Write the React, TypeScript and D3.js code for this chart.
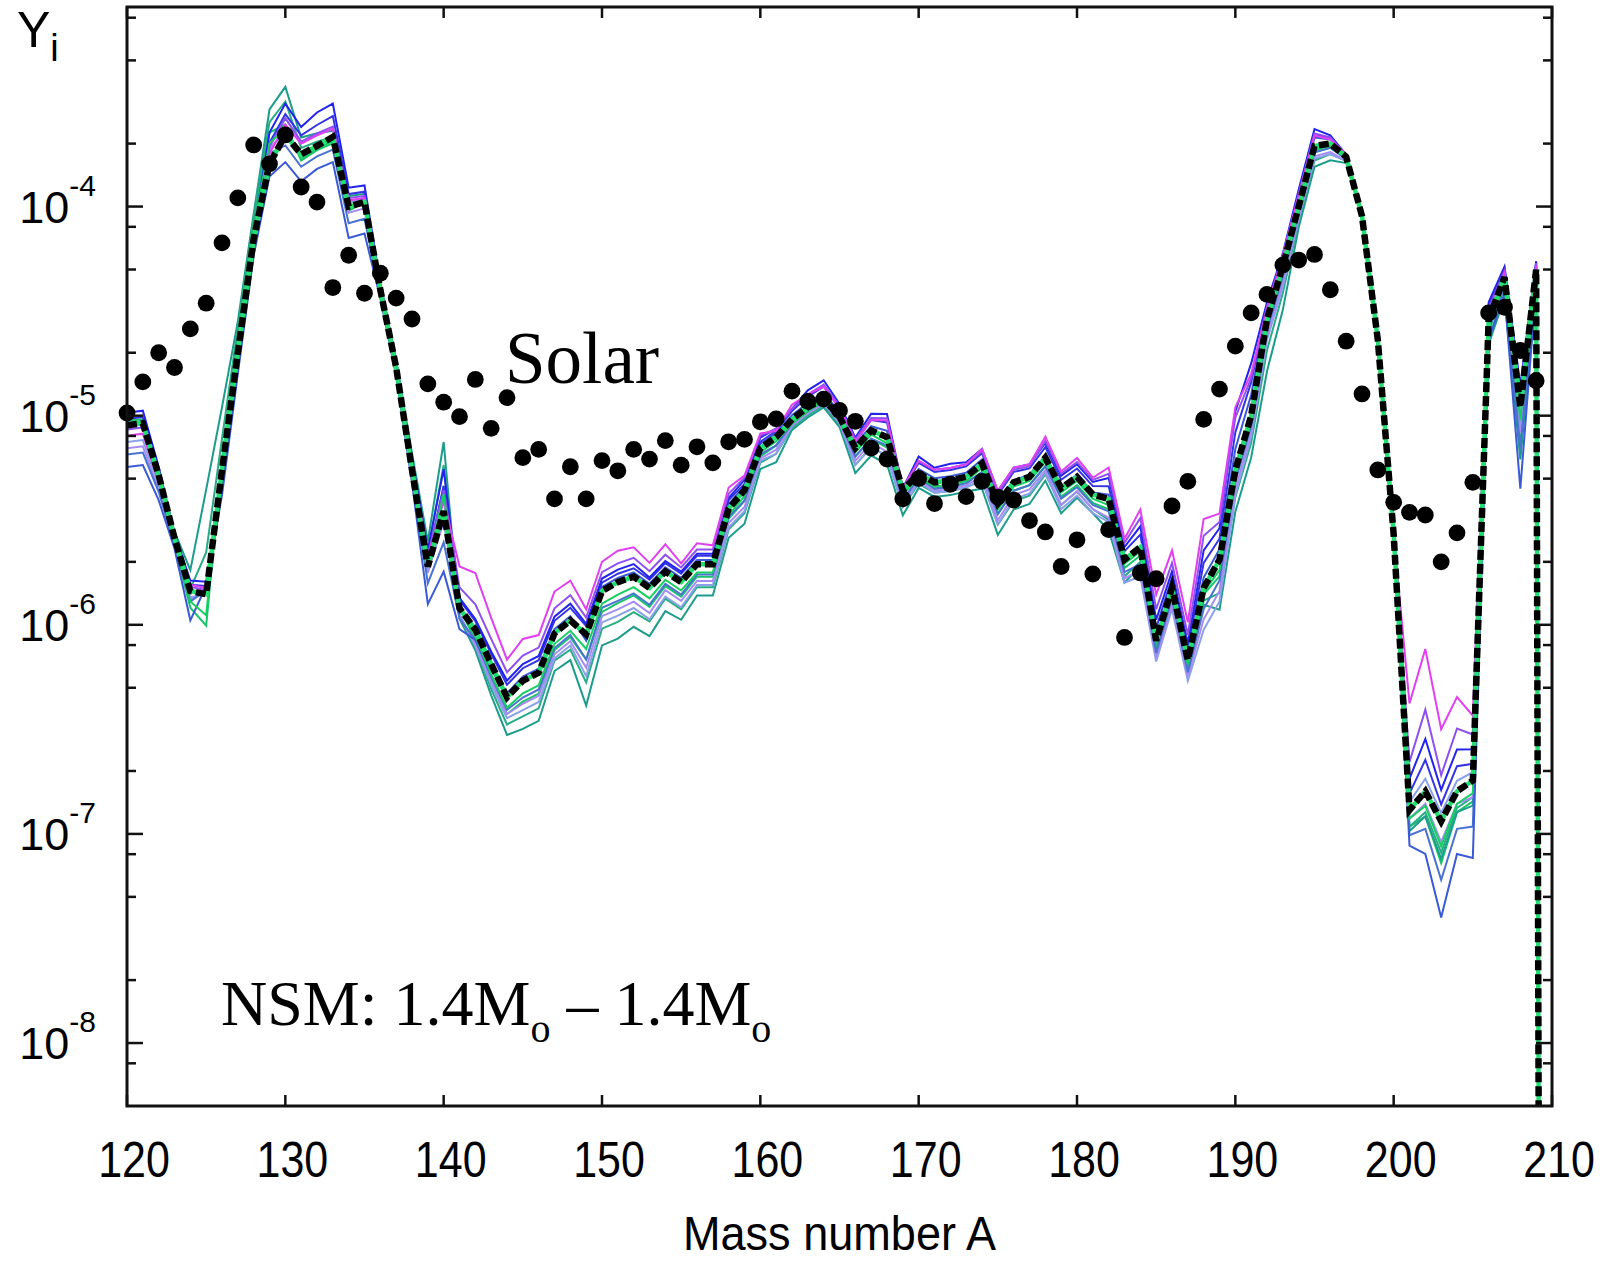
import React from "react";
import * as d3 from "d3";

// ---------- data ----------
// mass numbers of the network calculation (A = 120 ... 210)
const massNumbers: number[] = d3.range(120, 211);

// solar r-process abundances (black dots), A = 120 ... 209
const solarMass: number[] = d3.range(120, 210);
const solarAbundance: number[] = [
  1.03e-5, 1.45e-5, 2.0e-5, 1.7e-5, 2.6e-5, 3.45e-5, 6.7e-5, 1.1e-4, 1.97e-4, 1.6e-4,
  2.2e-4, 1.24e-4, 1.05e-4, 4.1e-5, 5.85e-5, 3.85e-5, 4.8e-5, 3.65e-5, 2.9e-5, 1.42e-5,
  1.16e-5, 9.9e-6, 1.49e-5, 8.7e-6, 1.22e-5, 6.3e-6, 6.9e-6, 4.0e-6, 5.7e-6, 4.0e-6,
  6.1e-6, 5.45e-6, 6.9e-6, 6.2e-6, 7.6e-6, 5.8e-6, 7.1e-6, 5.95e-6, 7.5e-6, 7.7e-6,
  9.35e-6, 9.65e-6, 1.31e-5, 1.17e-5, 1.2e-5, 1.06e-5, 9.4e-6, 7.0e-6, 6.2e-6, 4.0e-6,
  5.0e-6, 3.8e-6, 4.7e-6, 4.1e-6, 4.85e-6, 4.08e-6, 3.95e-6, 3.15e-6, 2.78e-6, 1.9e-6,
  2.55e-6, 1.75e-6, 2.85e-6, 8.7e-7, 1.77e-6, 1.66e-6, 3.7e-6, 4.85e-6, 9.6e-6, 1.34e-5,
  2.15e-5, 3.1e-5, 3.8e-5, 5.25e-5, 5.55e-5, 5.9e-5, 4.0e-5, 2.27e-5, 1.27e-5, 5.5e-6,
  3.85e-6, 3.45e-6, 3.35e-6, 2.0e-6, 2.75e-6, 4.8e-6, 3.1e-5, 3.3e-5, 2.05e-5, 1.47e-5,
];

// NSM 1.4-1.4 Msun reference run (black dashed line), A = 120 ... 210
const nsmReference: number[] = [
  9.0e-6, 9.2e-6, 5.2e-6, 2.6e-6, 1.45e-6, 1.4e-6, 5.5e-6, 2.0e-5, 7.0e-5, 1.6e-4,
  2.2e-4, 1.78e-4, 1.95e-4, 2.15e-4, 1.0e-4, 1.05e-4, 4.0e-5, 1.7e-5, 5.5e-6, 1.9e-6,
  3.5e-6, 1.2e-6, 9.5e-7, 6.5e-7, 4.5e-7, 5.4e-7, 5.9e-7, 9.1e-7, 1.05e-6, 9.0e-7,
  1.45e-6, 1.6e-6, 1.7e-6, 1.5e-6, 1.8e-6, 1.6e-6, 1.95e-6, 1.95e-6, 3.6e-6, 4.4e-6,
  7.0e-6, 7.9e-6, 9.6e-6, 1.1e-5, 1.2e-5, 9.9e-6, 7.0e-6, 8.5e-6, 7.9e-6, 4.4e-6,
  5.3e-6, 4.8e-6, 4.9e-6, 5.1e-6, 5.9e-6, 3.8e-6, 4.8e-6, 5.1e-6, 6.3e-6, 4.5e-6,
  5.1e-6, 4.2e-6, 4.0e-6, 2.05e-6, 2.35e-6, 8.4e-7, 1.5e-6, 6.8e-7, 1.5e-6, 2.05e-6,
  5.5e-6, 1.0e-5, 2.9e-5, 5.2e-5, 1.0e-4, 1.95e-4, 2.0e-4, 1.73e-4, 9.0e-5, 2.3e-5,
  2.7e-6, 1.3e-7, 1.6e-7, 1.15e-7, 1.6e-7, 1.8e-7, 2.9e-5, 4.6e-5, 1.1e-5, 5.0e-5,
  1e-30,
];

// varied-input runs: deviation from the reference run, in 0.01 dex, A = 120 ... 210
const devMagenta: number[] = [
  -5, -5, -3, 0, 3, 3, 0, 0, 0, 5,
  5, 5, 5, 4, 3, 2, 2, 2, 3, 5,
  5, 20, 27, 22, 18, 20, 18, 20, 19, 12,
  14, 15, 14, 12, 13, 9, 10, 9, 10, 7,
  7, 3, 7, 6, 6, 4, 3, 5, 8, 1,
  6, 6, 6, 6, 7, 6, 7, 6, 10, 8,
  9, 8, 15, 10, 18, 22, 18, 18, 33, 22,
  30, 20, 5, 5, 5, 5, 2, 1, 0, 0,
  0, 51, 68, 44, 45, 31, 3, 2, 5, 2,
  0,
];
const devViolet: number[] = [
  -2, -2, 0, 0, 2, 2, 0, 2, 3, 8,
  8, 6, 6, 5, 4, 3, 2, 2, 3, 5,
  10, 10, 12, 12, 12, 12, 12, 12, 12, 8,
  9, 9, 9, 8, 8, 7, 7, 7, 7, 6,
  6, 4, 5, 6, 7, 5, 4, 6, 9, 1,
  6, 6, 6, 6, 6, 5, 6, 5, 8, 7,
  7, 7, 12, 8, 14, 15, 12, 12, 25, 18,
  25, 18, 6, 5, 6, 6, 3, 1, 0, 0,
  0, 23, 39, 22, 30, 22, 5, 3, 8, 3,
  0,
];
const devBlue: number[] = [
  6, 6, 4, 2, 5, 6, -5, -3, 3, 15,
  15, 13, 16, 16, 9, 8, 3, 3, 5, 8,
  20, 5, 5, 6, 8, 8, 8, 8, 8, 5,
  6, 6, 6, 5, 5, 5, 5, 5, 5, 5,
  5, 4, 5, 8, 9, 6, 5, 8, 11, 1,
  8, 7, 8, 7, 7, 6, 7, 6, 7, 6,
  6, 6, 10, 6, 10, 10, 8, 8, 18, 15,
  28, 25, 8, 6, 8, 8, 4, 1, 0, 0,
  0, 15, 25, 15, 20, 15, 8, 5, 10, 4,
  0,
];
const devBlueMid: number[] = [
  3, 3, 2, 1, 3, 4, -3, -2, 2, 10,
  10, 9, 10, 10, 6, 5, 2, 2, 3, 4,
  12, 4, 4, 5, 6, 6, 6, 6, 6, 4,
  4, 4, 4, 4, 4, 4, 4, 4, 4, 3,
  3, 3, 4, 5, 6, 4, 3, 5, 7, 1,
  5, 5, 5, 5, 5, 4, 5, 4, 5, 4,
  4, 4, 6, 4, 6, 6, 5, 5, 12, 10,
  18, 16, 6, 4, 5, 5, 3, 1, 0, 0,
  0, 8, 15, 8, 12, 8, 6, 4, 6, 3,
  0,
];
const devDeepBlue: number[] = [
  -20, -20, -12, -5, -14, 4, -12, -10, -8, -6,
  -13, -13, -11, -12, -15, -15, -4, -4, -6, -18,
  -29, -10, -5, -3, 2, 2, 2, 2, 2, -3,
  2, 2, 2, 2, 2, 2, 2, 2, 2, 2,
  2, 2, 2, 2, 3, 2, 2, 2, 3, -2,
  2, 2, 2, 2, 2, 1, 1, 1, 1, 1,
  1, 1, 2, 0, 0, 0, 0, 0, 5, 5,
  10, 10, 4, 3, 4, 4, 2, 1, 0, 0,
  0, -17, -30, -46, -30, -37, -10, -8, -39, -8,
  0,
];
const devSlate: number[] = [
  -14, -14, -8, -3, -5, 2, -8, -6, -3, 5,
  -5, -6, -5, -6, -8, -8, -2, -2, -3, -8,
  -15, -5, -5, -6, -6, -8, -8, -7, -7, -12,
  -8, -9, -8, -8, -6, -6, -5, -5, -4, -5,
  -3, -4, -2, -2, -1, -2, -4, -4, -4, -5,
  -2, -3, -3, -3, -4, -5, -4, -4, -4, -5,
  -5, -5, -6, -6, -8, -6, -5, -6, -10, -10,
  -5, -5, -5, -5, -3, -3, -2, -1, 0, 0,
  0, -12, -18, -28, -18, -22, -5, -5, -20, -4,
  0,
];
const devPeriwinkle: number[] = [
  -8, -8, -5, -2, -3, 0, 3, 4, 5, 10,
  8, 6, 5, 4, 2, 2, 1, 1, 2, 3,
  5, -3, -8, -10, -10, -14, -14, -12, -12, -20,
  -15, -16, -15, -15, -12, -12, -10, -10, -9, -10,
  -6, -8, -3, -3, -2, -3, -8, -8, -9, -8,
  -4, -5, -5, -5, -8, -10, -8, -8, -7, -10,
  -9, -9, -11, -11, -14, -10, -10, -10, -20, -20,
  -12, -10, -10, -10, -6, -6, -5, -2, 0, 0,
  0, 4, 6, 4, 5, 4, 0, 0, -5, 0,
  0,
];
const devLavender: number[] = [
  -11, -11, -7, -3, -4, 1, -2, -1, 1, 7,
  2, 0, 0, -1, -3, -3, -1, -1, 0, -3,
  -5, -4, -7, -8, -8, -11, -11, -10, -10, -16,
  -12, -13, -12, -12, -9, -9, -8, -8, -7, -8,
  -5, -6, -3, -3, -2, -3, -6, -6, -7, -6,
  -3, -4, -4, -4, -6, -8, -6, -6, -6, -8,
  -7, -7, -9, -9, -11, -8, -8, -8, -15, -15,
  -9, -8, -8, -8, -5, -5, -4, -2, 0, 0,
  0, -4, -6, -10, -6, -8, -3, -3, -12, -2,
  0,
];
const devTeal: number[] = [
  0, 0, 0, 3, 10, 50, 30, 15, 12, 26,
  23, 8, 6, 3, 5, 4, 3, 3, 8, 12,
  33, -5, -10, -15, -18, -23, -23, -18, -19, -34,
  -26, -27, -24, -23, -19, -18, -15, -15, -14, -16,
  -10, -12, -5, -5, -4, -5, -12, -12, -13, -12,
  -7, -7, -7, -7, -12, -15, -13, -13, -11, -12,
  -10, -9, -15, -11, -9, -6, -3, -7, -8, -24,
  -20, -20, -25, -21, -10, -10, -8, -3, 0, 0,
  0, -10, -12, -18, -10, -12, -12, -10, -25, -10,
  0,
];
const devSea: number[] = [
  1, 1, 0, 0, 1, 20, 15, 12, 10, 20,
  16, 3, 2, 0, 2, 2, 2, 2, 5, 7,
  22, -3, -8, -12, -13, -17, -17, -13, -14, -23,
  -18, -19, -17, -16, -13, -13, -11, -11, -10, -11,
  -7, -8, -4, -4, -3, -4, -8, -8, -9, -8,
  -5, -5, -5, -5, -8, -10, -9, -9, -8, -8,
  -7, -7, -10, -8, -7, -4, -2, -5, -6, -16,
  -13, -13, -15, -13, -7, -7, -5, -2, 0, 0,
  0, -8, -10, -15, -8, -8, -9, -8, -18, -7,
  0,
];
const devGreen: number[] = [
  2, 2, 0, -3, -8, -15, 5, 8, 8, 15,
  5, -3, -2, -3, -2, 0, 0, 0, 3, 2,
  12, 0, -5, -8, -8, -10, -10, -8, -8, -12,
  -10, -10, -9, -9, -7, -7, -6, -6, -5, -5,
  -4, -4, -3, -3, -2, -3, -4, -4, -5, -4,
  -3, -3, -3, -3, -4, -5, -4, -4, -4, -4,
  -4, -4, -5, -4, -4, -2, 0, -3, -3, -8,
  -5, -5, -5, -5, -3, -3, -2, -1, 0, 0,
  0, -8, -12, -20, -10, -10, -6, -5, -10, -4,
  0,
];
const devGreenNear: number[] = [
  1, 1, 0, -2, -5, -10, 3, 5, 5, 10,
  3, -2, -1, -2, -1, 0, 0, 0, 2, 1,
  8, 0, -3, -5, -5, -6, -6, -5, -5, -7,
  -6, -6, -5, -5, -4, -4, -4, -4, -3, -3,
  -2, -2, -2, -2, -1, -2, -2, -2, -3, -2,
  -2, -2, -2, -2, -2, -3, -2, -2, -2, -2,
  -2, -2, -3, -2, -2, -1, 0, -2, -2, -5,
  -3, -3, -3, -3, -2, -2, -1, 0, 0, 0,
  0, -4, -7, -12, -6, -6, -4, -3, -6, -2,
  0,
];

const bandDeviations: number[][] = [
  devGreen, devTeal, devSea, devPeriwinkle, devLavender, devSlate, devDeepBlue,
  devBlueMid, devBlue, devViolet, devMagenta, devGreenNear,
];
const bandColors: string[] = [
  "#17c46a", "#1d9c8c", "#27ad86", "#8aa0ea", "#a68cf2", "#4a72d0", "#3a5ad6",
  "#3434e6", "#2323ee", "#8f50f0", "#e040f0", "#14d060",
];

// axis ticks
const xTickValues: number[] = [120, 130, 140, 150, 160, 170, 180, 190, 200, 210];
const yMajorValues: number[] = [1e-8, 1e-7, 1e-6, 1e-5, 1e-4];
const yMajorExponents: string[] = ["-8", "-7", "-6", "-5", "-4"];
const yMinorMantissas: number[] = [2, 5, 8];
const yMinorDecades: number[] = [-9, -8, -7, -6, -5, -4];

const SANS = "'Liberation Sans', Arial, Helvetica, sans-serif";
const SERIF = "'Liberation Serif', 'Times New Roman', Times, serif";

export default function App() {
  const W = 1609;
  const H = 1261;
  const L = 127;
  const R = 1552;
  const T = 7;
  const B = 1106;

  const x = d3.scaleLinear().domain([120, 210]).range([L, R]);
  const y = d3.scaleLog().domain([5e-9, 9e-4]).range([B, T]);

  const line = d3
    .line<[number, number]>()
    .x((d) => x(d[0]))
    .y((d) => y(d[1]));

  const mainPts: [number, number][] = massNumbers.map((a, i) => [a, nsmReference[i]]);
  const bandPaths = bandDeviations.map((dev, k) => ({
    color: bandColors[k],
    d:
      line(
        massNumbers.map((a, i) => [a, nsmReference[i] * Math.pow(10, dev[i] / 100)] as [number, number])
      ) || "",
  }));

  const minorTicks: number[] = [];
  yMinorDecades.forEach((e) =>
    yMinorMantissas.forEach((m) => {
      const v = m * Math.pow(10, e);
      if (v > 5.05e-9 && v < 9e-4) minorTicks.push(v);
    })
  );

  const majorLen = 16;
  const minorLen = 9;
  const xTickLen = 11;

  return (
    <svg
      width={W}
      height={H}
      viewBox={`0 0 ${W} ${H}`}
      style={{ position: "absolute", left: 0, top: 0, background: "#fff" }}
    >
      <rect x={0} y={0} width={W} height={H} fill="#fff" />
      <defs>
        <clipPath id="plotClip">
          <rect x={L} y={T} width={R - L} height={B - T} />
        </clipPath>
      </defs>

      <g clipPath="url(#plotClip)">
        {bandPaths.map((p, k) => (
          <path key={k} d={p.d} fill="none" stroke={p.color} strokeWidth={2} strokeLinejoin="miter" />
        ))}
        <path d={line(mainPts) || ""} fill="none" stroke="#22e070" strokeWidth={4.5} />
        <path d={line(mainPts) || ""} fill="none" stroke="#000" strokeWidth={6.5} strokeDasharray="10 4" />
      </g>

      {solarMass.map((a, i) => (
        <circle key={a} cx={x(a)} cy={y(solarAbundance[i])} r={8.4} fill="#000" />
      ))}

      {/* frame */}
      <rect x={L} y={T} width={R - L} height={B - T} fill="none" stroke="#111" strokeWidth={3} />

      {/* x ticks */}
      {xTickValues.map((v) => (
        <g key={v}>
          <line x1={x(v)} x2={x(v)} y1={B} y2={B - xTickLen} stroke="#111" strokeWidth={2.5} />
          <line x1={x(v)} x2={x(v)} y1={T} y2={T + xTickLen} stroke="#111" strokeWidth={2.5} />
          <text
            transform={`translate(${x(v) + 7},1177) scale(0.86,1)`}
            textAnchor="middle"
            fontFamily={SANS}
            fontSize={50}
            fill="#000"
          >
            {v}
          </text>
        </g>
      ))}

      {/* y ticks */}
      {yMajorValues.map((v, i) => (
        <g key={v}>
          <line x1={L} x2={L + majorLen} y1={y(v)} y2={y(v)} stroke="#111" strokeWidth={2.5} />
          <line x1={R} x2={R - majorLen} y1={y(v)} y2={y(v)} stroke="#111" strokeWidth={2.5} />
          <text x={96} y={y(v) + 16} textAnchor="end" fontFamily={SANS} fill="#000">
            <tspan fontSize={45}>10</tspan>
            <tspan fontSize={30} dy={-27}>
              {yMajorExponents[i]}
            </tspan>
          </text>
        </g>
      ))}
      {minorTicks.map((v) => (
        <g key={v}>
          <line x1={L} x2={L + minorLen} y1={y(v)} y2={y(v)} stroke="#111" strokeWidth={2.5} />
          <line x1={R} x2={R - minorLen} y1={y(v)} y2={y(v)} stroke="#111" strokeWidth={2.5} />
        </g>
      ))}

      {/* axis titles */}
      <text x={17} y={47} fontFamily={SANS} fill="#000">
        <tspan fontSize={50}>Y</tspan>
        <tspan fontSize={38} dy={14}>
          i
        </tspan>
      </text>
      <text
        transform={`translate(${(L + R) / 2},1250) scale(0.92,1)`}
        textAnchor="middle"
        fontFamily={SANS}
        fontSize={49}
        fill="#000"
      >
        Mass number A
      </text>

      {/* annotations */}
      <text x={505} y={383} fontFamily={SERIF} fontSize={73} fill="#000">
        Solar
      </text>
      <text x={221} y={1025} fontFamily={SERIF} fontSize={64} fill="#000">
        <tspan>NSM: 1.4M</tspan>
        <tspan fontSize={40} dy={17}>
          o
        </tspan>
        <tspan dy={-17}> – 1.4M</tspan>
        <tspan fontSize={40} dy={17}>
          o
        </tspan>
      </text>
    </svg>
  );
}
